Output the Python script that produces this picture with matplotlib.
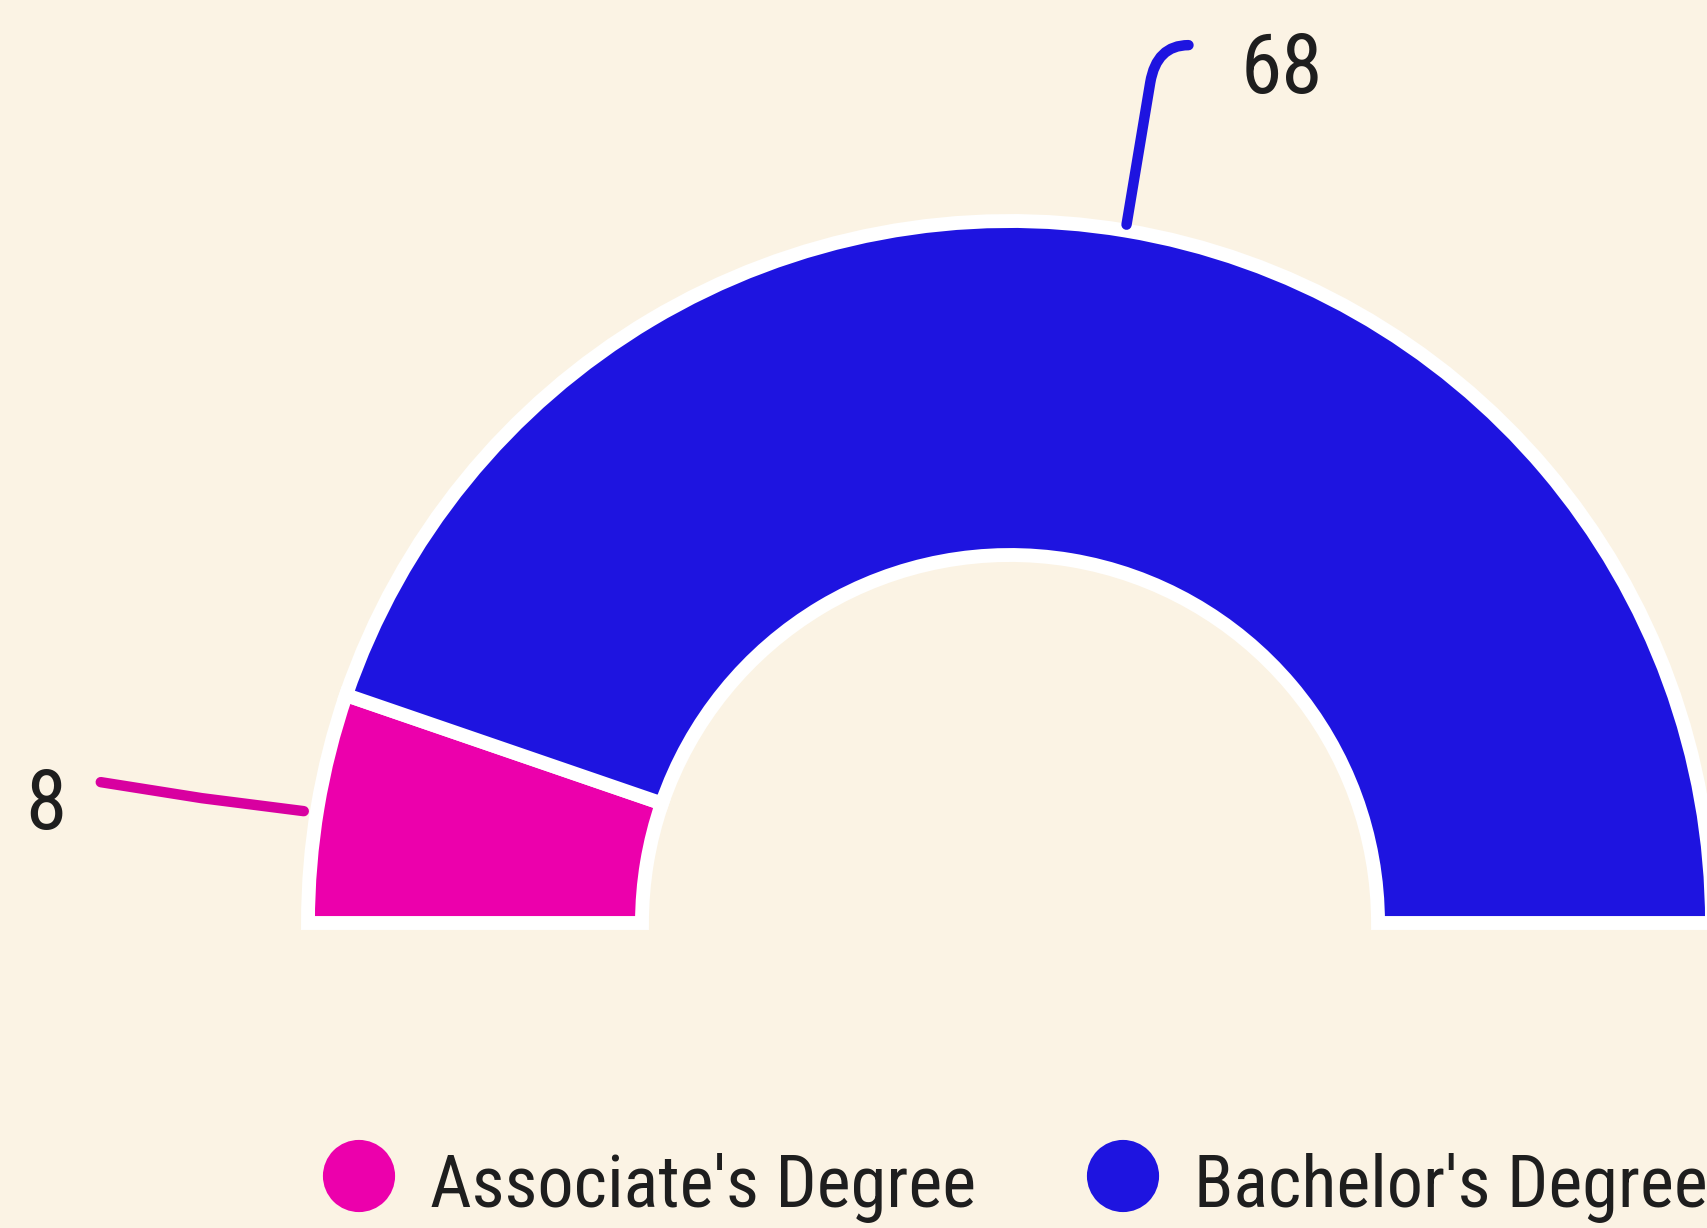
import matplotlib
matplotlib.use("Agg")

import matplotlib.pyplot as plt
import numpy as np
from matplotlib.path import Path
from matplotlib.patches import PathPatch
from matplotlib import font_manager

# Data
categories = ["Associate's Degree", "Bachelor's Degree"]
values = [8, 68]
colors = ["#EC00AC", "#1E14E0"]
leader_colors = ["#D800A0", "#1E14E0"]

bg = "#FBF3E4"
text_color = "#1E1E1E"

# pick a narrow face if one is installed
names = {f.name for f in font_manager.fontManager.ttflist}
fams = [f for f in ["Roboto Condensed", "Liberation Sans Narrow", "Roboto"] if f in names]
plt.rcParams['font.family'] = fams + ['DejaVu Sans']

fig = plt.figure(figsize=(17.07, 12.28), dpi=100, facecolor=bg)
ax = fig.add_axes([0, 0, 1, 1])
ax.set_facecolor(bg)

# half donut geometry (pixels, y up)
cx, cy = 1010, 305
R, r = 702, 368

wedges, _ = ax.pie(values + [sum(values)], colors=colors + ["none"],
                   startangle=180, counterclock=False, center=(cx, cy), radius=R,
                   wedgeprops=dict(width=R - r, edgecolor="white", linewidth=10))
wedges[-1].set_visible(False)

ax.set_xlim(0, 1707)
ax.set_ylim(0, 1228)
ax.set_aspect("equal")
ax.axis("off")

# value labels with leader lines from the middle of each slice
for i, w in enumerate(wedges[:-1]):
    ang = np.deg2rad((w.theta1 + w.theta2) / 2)
    d = np.array([np.cos(ang), np.sin(ang)])
    if i == 0:
        p0 = np.array([cx, cy]) + d * (R + 14) + np.array([0, -6])
        p1 = p0 + np.array([-102, 13])
        p2 = p1 + np.array([-101, 16])
        path = Path([p0, p1, p2], [Path.MOVETO, Path.LINETO, Path.LINETO])
        ax.text(46, p2[1] - 24, str(values[i]), fontsize=60, color=text_color,
                ha="center", va="center")
    else:
        p0 = np.array([cx, cy]) + d * (R + 6)
        p1 = p0 + d * 144
        c = p0 + d * 182
        p2 = c + np.array([32, 0])
        path = Path([p0, p1, c, p2], [Path.MOVETO, Path.LINETO, Path.CURVE3, Path.CURVE3])
        ax.text(p2[0] + 93, p2[1] - 25, str(values[i]), fontsize=60, color=text_color,
                ha="center", va="center")
    ax.add_patch(PathPatch(path, fill=False, edgecolor=leader_colors[i], linewidth=7.5,
                           capstyle="round", joinstyle="round"))

# legend
legend_x = [359, 1123]
for x, lab, col in zip(legend_x, categories, colors):
    ax.scatter([x], [52], s=2700, color=col, edgecolors="none")
    ax.text(x + 71, 40, lab, fontsize=52, color=text_color, ha="left", va="center")

fig.savefig("out.png", dpi=100, facecolor=bg)
